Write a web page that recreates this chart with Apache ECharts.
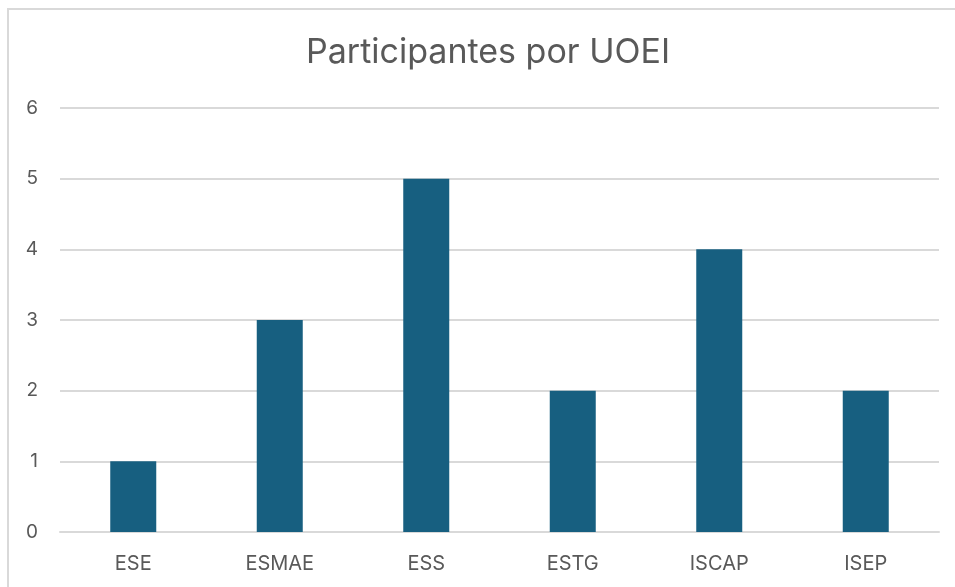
<!DOCTYPE html>
<html>
<head>
<meta charset="utf-8">
<script src="https://cdn.jsdelivr.net/npm/echarts@6/dist/echarts.min.js"></script>
<style>
  html, body { margin: 0; padding: 0; background: #fff; }
  #frame {
    position: absolute; left: 7px; top: 8px; width: 960px; height: 600px;
    border-left: 2px solid #d9d9d9; border-top: 2px solid #d9d9d9;
  }
  #chart { position: absolute; left: 0; top: 0; width: 955px; height: 587px; }
</style>
</head>
<body>
<div id="frame"></div>
<div id="chart"></div>
<script>
// dados
const categories = ['ESE', 'ESMAE', 'ESS', 'ESTG', 'ISCAP', 'ISEP']
const participantes = [1, 3, 5, 2, 4, 2]

const chart = echarts.init(document.getElementById('chart'))

chart.setOption({
  title: {
    text: 'Participantes por UOEI',
    left: 301,
    top: 31,
    textStyle: {
      fontFamily: 'Inter',
      fontSize: 34,
      fontWeight: 'normal',
      color: '#595959'
    }
  },
  grid: {
    left: 60,
    right: 16,
    top: 108,
    bottom: 55
  },
  xAxis: {
    type: 'category',
    data: categories,
    axisLine: { lineStyle: { color: '#d9d9d9', width: 2 } },
    axisTick: { show: false },
    axisLabel: {
      color: '#595959',
      fontFamily: 'Inter',
      fontSize: 20,
      margin: 22
    }
  },
  yAxis: {
    type: 'value',
    min: 0,
    max: 6,
    interval: 1,
    axisLine: { show: false },
    axisTick: { show: false },
    splitLine: { lineStyle: { color: '#d9d9d9', width: 2 } },
    axisLabel: {
      color: '#595959',
      fontFamily: 'Inter',
      fontSize: 19,
      margin: 22
    }
  },
  series: [
    {
      type: 'bar',
      data: participantes,
      barWidth: 46,
      itemStyle: { color: '#175f80' }
    }
  ]
})
</script>
</body>
</html>
